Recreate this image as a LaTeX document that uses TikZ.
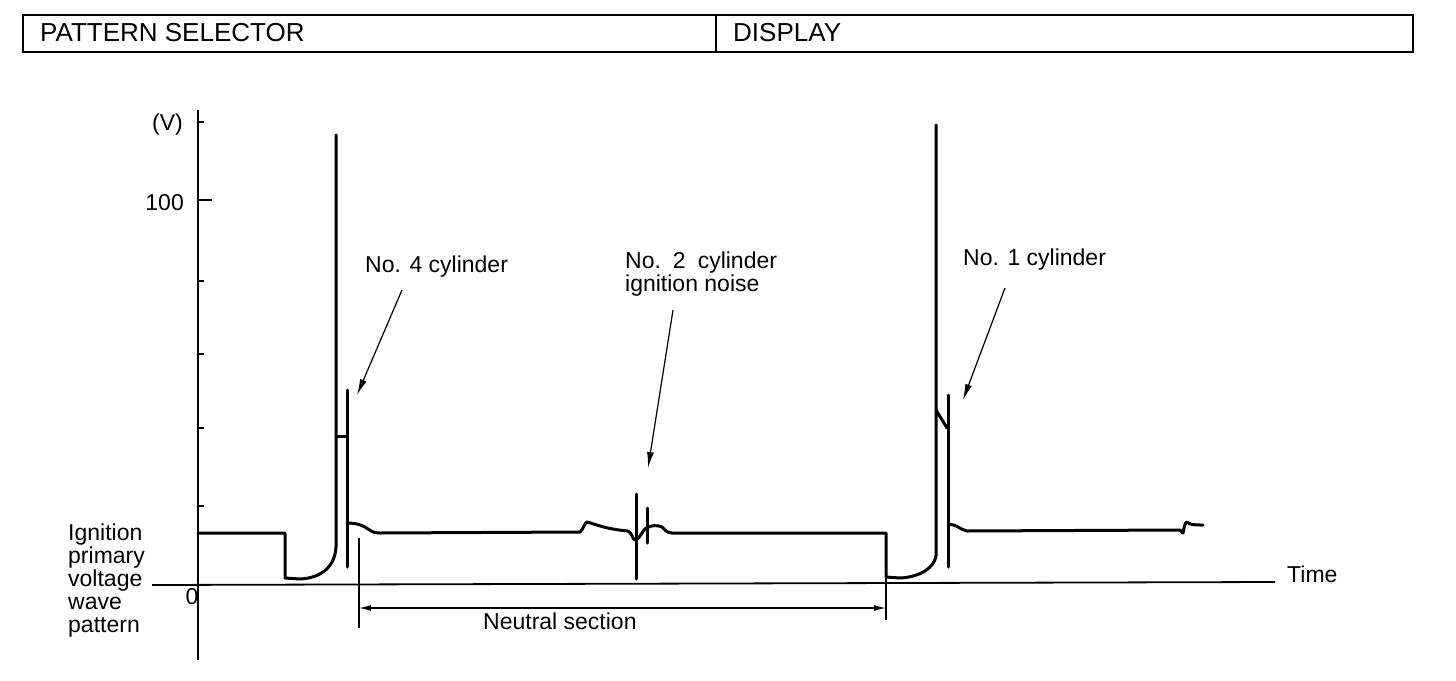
\documentclass[tikz,border=0pt]{standalone}
\usepackage{fontspec}
\setmainfont{Liberation Sans}
\usetikzlibrary{arrows.meta}
\begin{document}
\begin{tikzpicture}[x=1pt,y=-1pt,
  sig/.style={line width=3pt, line join=round, line cap=round},
  ax/.style={line width=1.8pt},
  tk/.style={line width=1.3pt},
  lbl/.style={font=\fontsize{23}{26}\selectfont, inner sep=0pt},
  hdr/.style={font=\fontsize{26}{29}\selectfont, inner sep=0pt},
  callout/.style={line width=1.2pt, -{Latex[length=16pt,width=7pt]}},
  dimline/.style={line width=1.3pt, {Latex[length=12pt,width=6pt]}-{Latex[length=12pt,width=6pt]}}
]
\useasboundingbox (0,0) rectangle (1456,680);

% header
\draw[line width=2pt] (23,15) rectangle (1413,52);
\draw[line width=1.5pt] (716,15) -- (716,52);
\node[hdr, anchor=base west] (ps) at (40,41) {PATTERN SELECTOR};
\node[hdr, anchor=base west] (disp) at (733,41) {DISPLAY};

% axes
\coordinate (ytop) at (198,110);
\coordinate (ybot) at (198,660);
\draw[ax] (ytop) -- (ybot);
\coordinate (tl) at (152,585);
\coordinate (tr) at (1275,582);
\draw[ax] (tl) -- (tr);
\foreach \y/\l in {122/6,200/14,281/6,354/6,428/6,506/6}
  \draw[tk] (198,\y) -- ++(\l,0);

\node[lbl, anchor=east] (vlab) at (183,125) {(V)};
\node[lbl, anchor=east] (hund) at (184,203) {100};
\node[lbl] (zero) at (192,597) {0};
\node[lbl, anchor=base west] (time) at (1287,582) {Time};

\node[lbl, anchor=base west] (ig1) at (68,540) {Ignition};
\node[lbl, anchor=base west] (ig2) at (68,563) {primary};
\node[lbl, anchor=base west] (ig3) at (68,586) {voltage};
\node[lbl, anchor=base west] (ig4) at (68,609) {wave};
\node[lbl, anchor=base west] (ig5) at (68,632) {pattern};

% signal
\draw[sig] (198,533) -- (285,533) -- (285,578) -- (300,579)
  .. controls (322,578) and (335,566) .. (336,547) -- (336,135);
\draw[sig] (336,436) -- (347,436);
\draw[sig] (347,390) -- (347,567);
\draw[sig] (347,523) .. controls (358,523) and (364,526) .. (368,529)
  .. controls (371,531) and (373,533) .. (380,533) -- (580,532)
  .. controls (583,530) and (585,522) .. (587,522)
  .. controls (595,524) and (605,529) .. (628,531)
  .. controls (632,533) and (633,540) .. (635,540)
  .. controls (640,540) and (643,528) .. (647,528)
  .. controls (650,525) and (658,525) .. (662,527)
  .. controls (665,530) and (667,533) .. (672,533) -- (886,533) -- (886,577) -- (900,578)
  .. controls (920,577) and (934,568) .. (936,556) -- (936,125);
\draw[sig] (636,494) -- (636,579);
\draw[sig] (647,508) -- (647,543);
\draw[sig] (936,410) -- (947,428);
\draw[sig] (948,395) -- (948,567);
\draw[sig] (948,525) .. controls (956,523) and (960,530) .. (967,531) -- (1180,530)
  .. controls (1182,531) and (1182,534) .. (1183,533)
  .. controls (1184,528) and (1185,522) .. (1187,522)
  .. controls (1190,525) and (1195,525) .. (1203,525);

% neutral section
\coordinate (nlt) at (359,538);
\coordinate (nlb) at (359,628);
\coordinate (nrt) at (886,577);
\coordinate (nrb) at (886,620);
\draw[tk] (nlt) -- (nlb);
\draw[tk] (nrt) -- (nrb);
\coordinate (na) at (359,608);
\coordinate (nb) at (886,608);
\draw[dimline] (na) -- (nb);
\node[lbl, anchor=base west] (neutral) at (483,629) {Neutral section};

% callouts
\node[lbl, anchor=base west] (c4) at (365,272) {No. 4 cylinder};
\coordinate (c4s) at (402,290);
\coordinate (c4t) at (357,395);
\draw[callout] (c4s) -- (c4t);

\node[lbl, anchor=base west] (c2a) at (625,268) {No.\hspace{12pt}2\hspace{12pt}cylinder};
\node[lbl, anchor=base west] (c2b) at (625,291) {ignition noise};
\coordinate (c2s) at (673,310);
\coordinate (c2t) at (648,468);
\draw[callout] (c2s) -- (c2t);

\node[lbl, anchor=base west] (c1) at (963,265) {No. 1 cylinder};
\coordinate (c1s) at (1005,288);
\coordinate (c1t) at (963,400);
\draw[callout] (c1s) -- (c1t);
\end{tikzpicture}
\end{document}
